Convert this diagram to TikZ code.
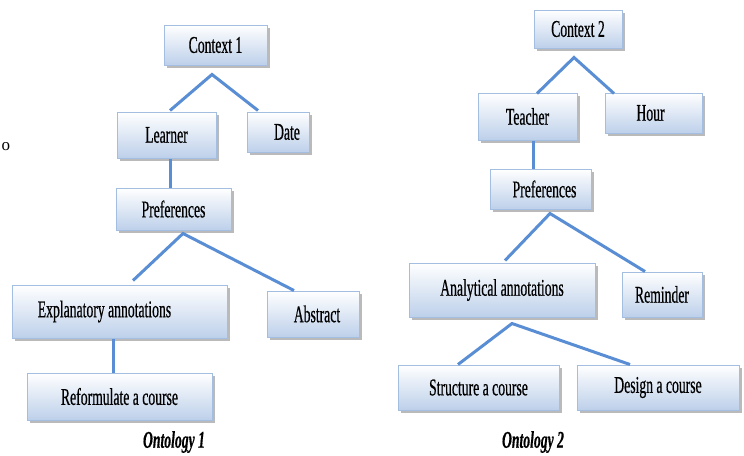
\documentclass[tikz,border=0pt]{standalone}
\usepackage{fontspec}
\setmainfont[FakeStretch=0.57,FakeBold=0.5]{Liberation Serif}
\newfontfamily\plainserif{Liberation Serif}
\usetikzlibrary{shadows}
\definecolor{boxbot}{HTML}{BDD0EA}
\definecolor{boxline}{HTML}{A3BEE0}
\definecolor{linkc}{HTML}{5A8ED4}
\tikzset{
  box/.style={draw=boxline, line width=1pt, top color=white, bottom color=boxbot,
    drop shadow={shadow xshift=3pt, shadow yshift=-3pt, fill=black!45, opacity=0.6},
    inner sep=0pt, font=\fontsize{24}{28}\selectfont},
  link/.style={draw=linkc, line width=3pt},
  caption/.style={font=\fontsize{24}{28}\selectfont\bfseries\itshape, inner sep=0pt}
}
\begin{document}
\begin{tikzpicture}[x=1pt,y=-1pt]
\useasboundingbox (0,0) rectangle (744,455);
% stray letter
\node[font=\fontsize{17}{20}\selectfont\plainserif, inner sep=0pt] (o) at (6,147) {o};
% Ontology 1
\node[box, minimum width=103pt, minimum height=40pt] (c1) at (215.5,45) {Context 1};
\node[box, minimum width=99pt, minimum height=46pt] (learner) at (166.5,135) {Learner};
\node[box, minimum width=62pt, minimum height=40pt] (date) at (278,132) {\kern18pt Date};
\node[box, minimum width=115pt, minimum height=42pt] (pref1) at (173.5,209) {Preferences};
\node[box, minimum width=215pt, minimum height=53pt] (expl) at (119.5,311.5) {\raisebox{3pt}{Explanatory annotations}\kern30pt};
\node[box, minimum width=92pt, minimum height=46pt] (abs) at (313,314) {\kern8pt Abstract};
\node[box, minimum width=185pt, minimum height=47pt] (ref) at (119.5,396.5) {Reformulate a course};
\node[caption] (ont1) at (174,442) {Ontology 1};
% Ontology 2
\node[box, minimum width=88pt, minimum height=38pt] (c2) at (578,29) {Context 2};
\node[box, minimum width=99pt, minimum height=47pt] (teacher) at (527.5,116.5) {Teacher};
\node[box, minimum width=97pt, minimum height=40pt] (hour) at (653.5,113) {Hour\kern6pt};
\node[box, minimum width=101pt, minimum height=40pt] (pref2) at (540.5,189) {\kern8pt Preferences};
\node[box, minimum width=186pt, minimum height=54pt] (ana) at (502,290) {\raisebox{3pt}{Analytical annotations}};
\node[box, minimum width=80pt, minimum height=45pt] (rem) at (662,294.5) {Reminder};
\node[box, minimum width=161pt, minimum height=45pt] (str) at (478.5,387.5) {Structure a course};
\node[box, minimum width=162pt, minimum height=45pt] (des) at (658,387.5) {Design a course};
\node[caption] (ont2) at (533,442) {Ontology 2};
% apex coordinates
\coordinate (a1) at ([xshift=-3.5pt,yshift=-9pt]c1.south);
\coordinate (a2) at ([xshift=9.5pt,yshift=-3pt]pref1.south);
\coordinate (a3) at ([xshift=-4pt,yshift=-9pt]c2.south);
\coordinate (a4) at ([xshift=9.5pt,yshift=-4pt]pref2.south);
\coordinate (a5) at ([xshift=10pt,yshift=-6pt]ana.south);
% connectors
\draw[link] ([xshift=3.5pt,yshift=1pt]learner.north) -- (a1) -- ([xshift=-20pt,yshift=1pt]date.north);
\draw[link] ([xshift=3.5pt]learner.south) -- ([xshift=3.5pt]learner.south |- pref1.north);
\draw[link] ([xshift=13.5pt,yshift=4pt]expl.north) -- (a2) -- ([xshift=-19pt]abs.north);
\draw[link] ([xshift=-6.5pt]expl.south) -- ([xshift=-6.5pt]expl.south |- ref.north);
\draw[link] ([xshift=9.5pt,yshift=-1pt]teacher.north) -- (a3) -- ([xshift=-39.5pt,yshift=-1pt]hour.north);
\draw[link] ([xshift=5.5pt]teacher.south) -- ([xshift=5.5pt]teacher.south |- pref2.north);
\draw[link] ([xshift=3pt,yshift=2pt]ana.north) -- (a4) -- ([xshift=-17pt]rem.north);
\draw[link] ([xshift=-20.5pt]str.north) -- (a5) -- ([xshift=-28pt]des.north);
\end{tikzpicture}
\end{document}
